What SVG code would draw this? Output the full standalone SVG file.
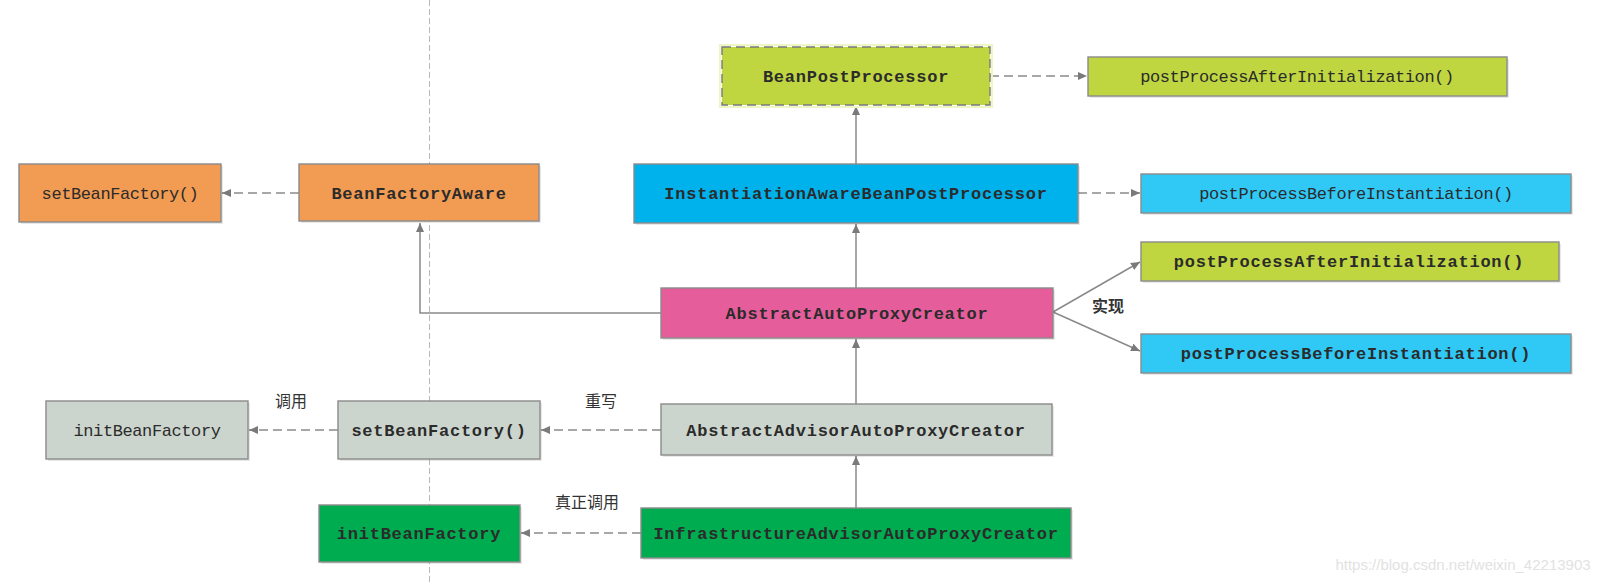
<svg xmlns="http://www.w3.org/2000/svg" width="1608" height="584" viewBox="0 0 1608 584">
<style>
.box{stroke:#8a8a8a;stroke-width:1.4}
.sh{fill:#000;opacity:0.09}
.t{font-family:"Liberation Mono",monospace;font-size:17px;fill:#2b2b2b;text-anchor:middle;letter-spacing:-0.4px}
.b{font-weight:bold;letter-spacing:0.75px}
.lbl{font-family:"Noto Sans CJK SC",sans-serif;font-size:16px;fill:#333;text-anchor:middle}
.c{fill:none;stroke:#8a8a8a;stroke-width:1.5}
.d{stroke-dasharray:9,5}
</style>
<defs>
<marker id="ah" markerUnits="userSpaceOnUse" markerWidth="10" markerHeight="10" refX="9" refY="4" orient="auto">
<path d="M0,0 L9,4 L0,8 z" fill="#7a7a7a"/>
</marker>
</defs>
<rect width="1608" height="584" fill="#fff"/>
<line x1="429.5" y1="0" x2="429.5" y2="584" stroke="#b8b8b8" stroke-width="1" stroke-dasharray="6,3"/>

<g id="connectors">
<path class="c d" d="M299,193 H222" marker-end="url(#ah)"/>
<path class="c" d="M661,313 H420 V223" marker-end="url(#ah)"/>
<path class="c" d="M856,164 V106" marker-end="url(#ah)"/>
<path class="c d" d="M990,76 H1087" marker-end="url(#ah)"/>
<path class="c d" d="M1078,193 H1140" marker-end="url(#ah)"/>
<path class="c" d="M856,288 V224" marker-end="url(#ah)"/>
<path class="c" d="M1053,312 L1140,262" marker-end="url(#ah)"/>
<path class="c" d="M1053,312 L1140,351" marker-end="url(#ah)"/>
<path class="c" d="M856,404 V339" marker-end="url(#ah)"/>
<path class="c d" d="M661,430 H541" marker-end="url(#ah)"/>
<path class="c d" d="M338,430 H249" marker-end="url(#ah)"/>
<path class="c" d="M856,508 V456" marker-end="url(#ah)"/>
<path class="c d" d="M641,533 H521" marker-end="url(#ah)"/>
</g>

<g id="lbl-diaoyong"><text class="lbl" x="291" y="407">调用</text></g>
<g id="lbl-chongxie"><text class="lbl" x="601" y="407">重写</text></g>
<g id="lbl-zhenzheng"><text class="lbl" x="587" y="508">真正调用</text></g>
<g id="lbl-shixian"><text class="lbl" x="1108" y="312" font-weight="bold">实现</text></g>

<g id="setBeanFactory-orange">
<rect class="sh" x="21" y="166" width="202" height="58"/>
<rect class="box" x="19" y="164" width="202" height="58" fill="#F29B52"/>
<text class="t" x="120" y="199">setBeanFactory()</text>
</g>
<g id="BeanFactoryAware">
<rect class="sh" x="301" y="166" width="240" height="57"/>
<rect class="box" x="299" y="164" width="240" height="57" fill="#F29B52"/>
<text class="t b" x="419" y="199">BeanFactoryAware</text>
</g>
<g id="BeanPostProcessor">
<rect x="720" y="45" width="272" height="62" fill="none" stroke="#eef6c8" stroke-width="2"/>
<rect x="722" y="47" width="268" height="58" fill="#BFD641" stroke="#7a7a7a" stroke-width="1.4" stroke-dasharray="9,5"/>
<text class="t b" x="856" y="82">BeanPostProcessor</text>
</g>
<g id="postProcessAfterInitialization-top">
<rect class="sh" x="1090" y="59" width="419" height="39"/>
<rect class="box" x="1088" y="57" width="419" height="39" fill="#BFD641"/>
<text class="t" x="1297" y="82">postProcessAfterInitialization()</text>
</g>
<g id="InstantiationAwareBeanPostProcessor">
<rect class="sh" x="636" y="166" width="444" height="59"/>
<rect class="box" x="634" y="164" width="444" height="59" fill="#00B2EC"/>
<text class="t b" x="856" y="199">InstantiationAwareBeanPostProcessor</text>
</g>
<g id="postProcessBeforeInstantiation-top">
<rect class="sh" x="1143" y="176" width="430" height="39"/>
<rect class="box" x="1141" y="174" width="430" height="39" fill="#30C9F6"/>
<text class="t" x="1356" y="199">postProcessBeforeInstantiation()</text>
</g>
<g id="AbstractAutoProxyCreator">
<rect class="sh" x="663" y="290" width="392" height="50"/>
<rect class="box" x="661" y="288" width="392" height="50" fill="#E55E9B"/>
<text class="t b" x="857" y="319">AbstractAutoProxyCreator</text>
</g>
<g id="postProcessAfterInitialization-impl">
<rect class="sh" x="1143" y="244" width="418" height="39"/>
<rect class="box" x="1141" y="242" width="418" height="39" fill="#BFD641"/>
<text class="t b" x="1349" y="267">postProcessAfterInitialization()</text>
</g>
<g id="postProcessBeforeInstantiation-impl">
<rect class="sh" x="1143" y="336" width="430" height="39"/>
<rect class="box" x="1141" y="334" width="430" height="39" fill="#30C9F6"/>
<text class="t b" x="1356" y="359">postProcessBeforeInstantiation()</text>
</g>
<g id="initBeanFactory-gray">
<rect class="sh" x="48" y="403" width="202" height="58"/>
<rect class="box" x="46" y="401" width="202" height="58" fill="#CCD5CD"/>
<text class="t" x="147" y="436">initBeanFactory</text>
</g>
<g id="setBeanFactory-gray">
<rect class="sh" x="340" y="403" width="202" height="58"/>
<rect class="box" x="338" y="401" width="202" height="58" fill="#CCD5CD"/>
<text class="t b" x="439" y="436">setBeanFactory()</text>
</g>
<g id="AbstractAdvisorAutoProxyCreator">
<rect class="sh" x="663" y="406" width="391" height="51"/>
<rect class="box" x="661" y="404" width="391" height="51" fill="#CCD5CD"/>
<text class="t b" x="856" y="436">AbstractAdvisorAutoProxyCreator</text>
</g>
<g id="initBeanFactory-green">
<rect class="sh" x="321" y="507" width="201" height="57"/>
<rect class="box" x="319" y="505" width="201" height="57" fill="#00AC50"/>
<text class="t b" x="419" y="539">initBeanFactory</text>
</g>
<g id="InfrastructureAdvisorAutoProxyCreator">
<rect class="sh" x="643" y="510" width="430" height="50"/>
<rect class="box" x="641" y="508" width="430" height="50" fill="#00AC50"/>
<text class="t b" x="856" y="539">InfrastructureAdvisorAutoProxyCreator</text>
</g>
<text x="1463" y="570" font-family="Liberation Sans,sans-serif" font-size="15" fill="#e2e2e2" text-anchor="middle">https://blog.csdn.net/weixin_42213903</text>
</svg>
